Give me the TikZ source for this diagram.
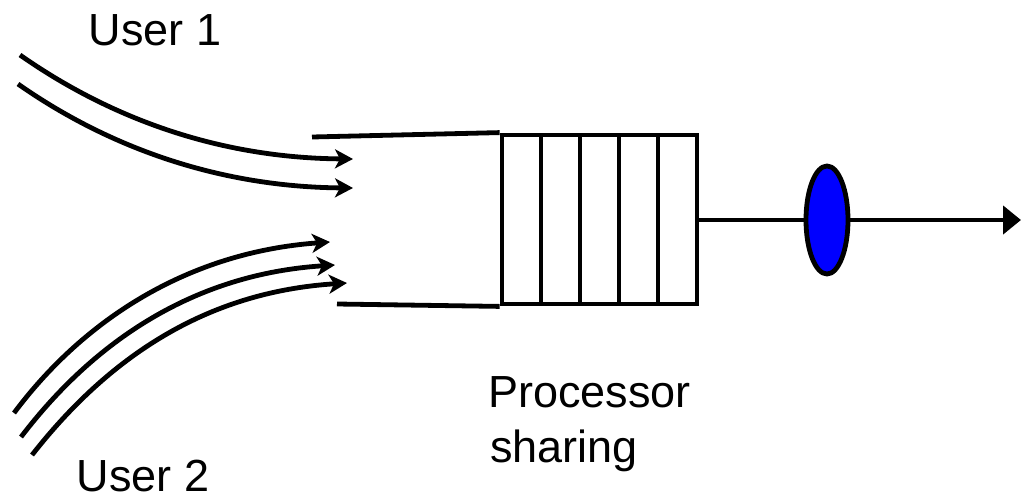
\documentclass[tikz,border=0pt]{standalone}
\usepackage{fontspec}
\setmainfont{Liberation Sans}
\usetikzlibrary{arrows.meta,shapes.geometric}
\begin{document}
\begin{tikzpicture}[x=1pt,y=-1pt,
  flow/.style={line width=4.8pt,-{Stealth[length=18pt,width=19pt,inset=5pt]}},
  wall/.style={line width=4.8pt},
  lbl/.style={font=\fontsize{45}{55}\selectfont,inner sep=0pt,anchor=base west},
  queuebox/.style={draw,line width=4.8pt,rectangle,minimum width=195pt,minimum height=169pt,inner sep=0pt},
  serverstyle/.style={draw,line width=4.8pt,ellipse,fill={rgb,255:red,0;green,0;blue,255},minimum width=42pt,minimum height=108pt,inner sep=0pt}]
\useasboundingbox (0,0) rectangle (1021,496);
% labels
\node[lbl] (u1) at (88.5,45) {User 1};
\node[lbl] (u2) at (76.5,491) {User 2};
\node[lbl] (procA) at (488,407) {Processor};
\node[lbl] (procB) at (490,462) {sharing};
% queue
\node[queuebox] (queue) at (599.5,219.5) {};
\foreach \xx in {541,580,619,658}
  \draw[wall] (\xx,135) -- (\xx,304);
\coordinate (topL) at (312,137);
\coordinate (botL) at (337,304);
\draw[wall] (topL) -- (queue.north west);
\draw[wall] (botL) -- (queue.south west);
% server and output
\node[serverstyle] (server) at (827,220) {};
\coordinate (out) at (1021,220);
\draw[wall] (queue.east |- server) -- (server.west);
\draw[wall,-{Triangle[length=18pt,width=28pt]}] (server.east) -- (out);
% user 1 flows
\coordinate (a1s) at (20,55);  \coordinate (a1e) at (353,159);
\coordinate (a2s) at (18,84);  \coordinate (a2e) at (353,188);
\draw[flow] (a1s) .. controls (120,125) and (230,158) .. (a1e);
\draw[flow] (a2s) .. controls (118,154) and (230,187) .. (a2e);
% user 2 flows
\coordinate (b1s) at (14,413); \coordinate (b1e) at (330,242);
\coordinate (b2s) at (21,437); \coordinate (b2e) at (335,265);
\coordinate (b3s) at (32,455); \coordinate (b3e) at (347,283);
\draw[flow] (b1s) .. controls (85,318) and (190,252) .. (b1e);
\draw[flow] (b2s) .. controls (95,340) and (195,274) .. (b2e);
\draw[flow] (b3s) .. controls (108,358) and (205,292) .. (b3e);
\end{tikzpicture}
\end{document}
